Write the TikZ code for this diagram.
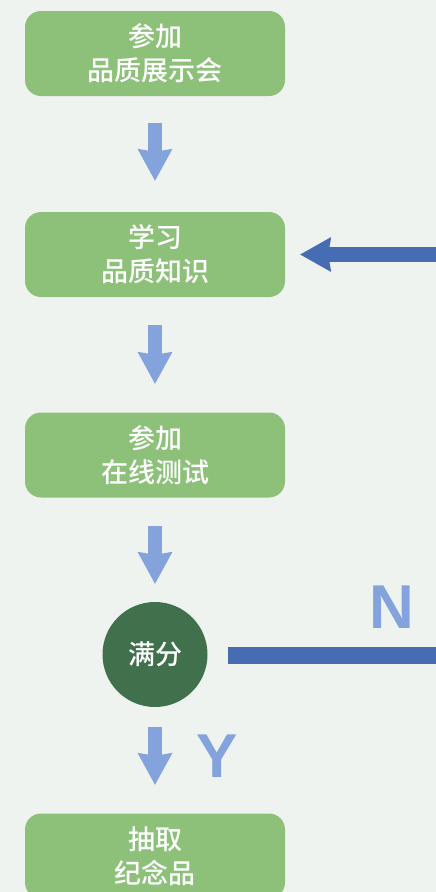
\documentclass[tikz,border=0pt]{standalone}
\usepackage{fontspec}
\newfontfamily\cjk{Noto Sans CJK SC}[UprightFont={Noto Sans CJK SC Medium}]
\newfontfamily\latinb{Liberation Sans}[BoldFont={Liberation Sans Bold}]
\usetikzlibrary{arrows.meta}
\definecolor{bgc}{HTML}{EFF3F0}
\definecolor{boxg}{HTML}{8DC17A}
\definecolor{darkg}{HTML}{41704D}
\definecolor{lblue}{HTML}{84A3DC}
\definecolor{dblue}{HTML}{466CB4}
\tikzset{
  stepbox/.style={draw=none, fill=boxg, rounded corners=16pt, minimum width=260pt,
    minimum height=85pt, inner sep=0pt, align=center, text=white,
    font=\cjk\fontsize{27}{34}\selectfont},
  decision/.style={circle, fill=darkg, minimum size=105pt, inner sep=0pt, text=white,
    font=\cjk\fontsize{27}{34}\selectfont},
  downarrow/.style={draw=lblue, line width=14pt,
    -{Stealth[length=32pt,width=35pt,inset=3pt,line width=0pt]}},
  backline/.style={draw=dblue, line width=17pt},
  backarrow/.style={draw=dblue, line width=15pt,
    -{Stealth[length=31pt,width=35pt,inset=3pt,line width=0pt]}},
  yn/.style={text=lblue, font=\latinb\bfseries\fontsize{62}{62}\selectfont, inner sep=0pt}
}
\begin{document}
\begin{tikzpicture}[x=1pt,y=-1pt]
\useasboundingbox (0,0) rectangle (436,892);
\fill[bgc] (0,0) rectangle (436,892);
\begin{scope}
\clip (0,0) rectangle (436,892);
\node[stepbox] (b1) at (155,53.5) {参加\\品质展示会};
\node[stepbox] (b2) at (155,254.5) {学习\\品质知识};
\node[stepbox] (b3) at (155,455) {参加\\在线测试};
\node[decision] (c) at (155,654.5) {满分};
\node[stepbox] (b4) at (155,856) {抽取\\纪念品};
\coordinate (r1) at (470,655);
\coordinate (r2) at (470,254.5);
\draw[downarrow, shorten <=27pt, shorten >=31pt] (b1) -- (b2);
\draw[downarrow, shorten <=28pt, shorten >=28.5pt] (b2) -- (b3);
\draw[downarrow, shorten <=28.5pt, shorten >=18pt] (b3) -- (c);
\draw[downarrow, shorten <=20pt, shorten >=28.5pt] (c) -- (b4);
\draw[backline, shorten <=20pt] (c.east |- r1) -- (r1) -- (r2);
\draw[backarrow, shorten >=15pt] (r2) -- (b2);
\node[yn] (ylab) at (217,756) {Y};
\node[yn] (nlab) at (392,607) {N};
\end{scope}
\end{tikzpicture}
\end{document}
